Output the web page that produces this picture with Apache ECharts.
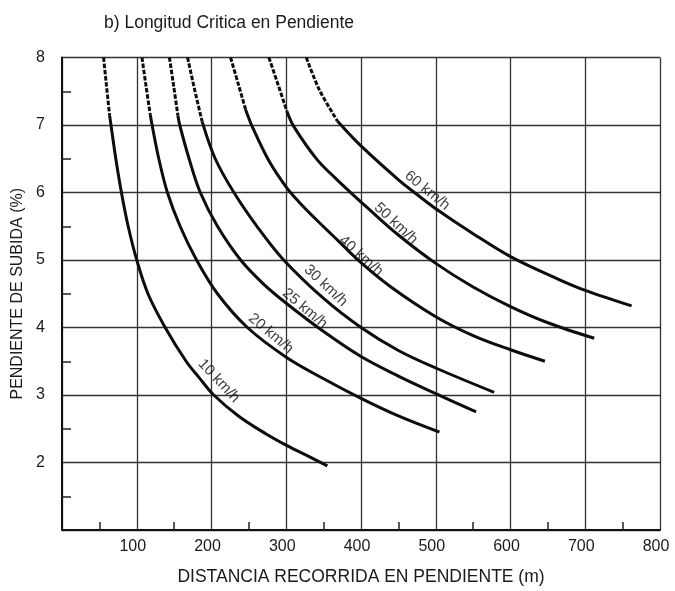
<!DOCTYPE html>
<html>
<head>
<meta charset="utf-8">
<script src="https://cdn.jsdelivr.net/npm/echarts@6/dist/echarts.min.js"></script>
<style>
  html, body { margin: 0; padding: 0; background: #fff; }
  #chart { width: 675px; height: 591px; }
</style>
</head>
<body>
<div id="chart"></div>
<script>
// Longitud critica en pendiente: distancia recorrida (m) vs. pendiente de subida (%)
// one curve per speed reduction; the upper stretch of each curve is drawn dashed

const distanceTicks = [0, 100, 200, 300, 400, 500, 600, 700, 800];
const gradeTicks = [1, 2, 3, 4, 5, 6, 7, 8];

const speeds = ['10 km/h', '20 km/h', '25 km/h', '30 km/h', '40 km/h', '50 km/h', '60 km/h'];

// [distance m, grade %]
const dashed10 = [[55.6, 8], [59.6, 7.57], [63.7, 7.14]];
const solid10 = [[63.7, 7.14], [65.5, 7.0], [72, 6.5], [79.5, 6.0], [88.5, 5.5], [100, 5.0], [115, 4.5],
  [138, 4.0], [166, 3.5], [184, 3.25], [203, 3.0], [236, 2.69], [272, 2.43], [301, 2.25], [330, 2.09], [355, 1.95]];

const dashed20 = [[107, 8], [112.5, 7.57], [118, 7.16]];
const solid20 = [[118, 7.16], [120.5, 7.0], [129.5, 6.5], [141, 6.0], [158, 5.5], [180, 5.0], [208, 4.5],
  [248, 4.0], [300, 3.56], [350, 3.24], [400, 2.95], [450, 2.69], [505, 2.45]];

const dashed25 = [[143.7, 8], [149.5, 7.57], [155, 7.14]];
const solid25 = [[155, 7.14], [157.5, 7.0], [170, 6.5], [185, 6.0], [208, 5.5], [239, 5.0], [270, 4.64],
  [300, 4.36], [350, 3.94], [400, 3.57], [450, 3.28], [500, 3.02], [554, 2.75]];

const dashed30 = [[168, 8], [177.5, 7.52], [187.5, 7.05]];
const solid30 = [[187.5, 7.05], [205, 6.5], [230, 6.0], [262, 5.48], [295, 5.02], [350, 4.43], [400, 4.0],
  [450, 3.66], [500, 3.40], [578, 3.04]];

const dashed40 = [[225.5, 8], [235.5, 7.62], [245.6, 7.23]];
const solid40 = [[245.6, 7.23], [254.4, 6.98], [276.8, 6.47], [300, 6.08], [317, 5.86], [340, 5.60], [370, 5.28],
  [400, 4.96], [440, 4.60], [500, 4.16], [550, 3.88], [600, 3.67], [646, 3.50]];

const dashed50 = [[276.8, 8], [289, 7.6], [301, 7.2]];
const solid50 = [[301, 7.2], [310, 6.98], [341, 6.49], [365, 6.22], [388, 5.98], [405, 5.81], [450, 5.37],
  [500, 4.95], [550, 4.60], [600, 4.31], [650, 4.07], [712, 3.84]];

const dashed60 = [[326.8, 8], [344.3, 7.52], [368.4, 7.06]];
const solid60 = [[368.4, 7.06], [400, 6.69], [451, 6.18], [475, 5.97], [500, 5.76], [550, 5.39], [600, 5.05],
  [665, 4.71], [700, 4.55], [762, 4.32]];

const dashedParts = [dashed10, dashed20, dashed25, dashed30, dashed40, dashed50, dashed60];
const solidParts = [solid10, solid20, solid25, solid30, solid40, solid50, solid60];

// where each speed label sits (data coordinates) and how it is tilted along its curve
const labelLayout = [
  { at: [209.8, 3.21], angle: -47 },
  { at: [279.5, 3.91], angle: -40 },
  { at: [325, 4.28], angle: -40 },
  { at: [352.8, 4.62], angle: -43 },
  { at: [400, 5.06], angle: -41 },
  { at: [446.6, 5.54], angle: -43 },
  { at: [488.6, 6.03], angle: -39 }
];

const FONT = "'Liberation Sans', Arial, Helvetica, sans-serif";
const INK = '#0d0d0d';

const series = [];
speeds.forEach((name, i) => {
  series.push({
    type: 'line', name: name + ' (tramo incierto)', data: dashedParts[i],
    showSymbol: false, smooth: 0.3, silent: true, z: 3,
    lineStyle: { color: INK, width: 3, type: [4.5, 1.7] }
  });
  series.push({
    type: 'line', name: name, data: solidParts[i],
    showSymbol: false, smooth: 0.35, silent: true, z: 3,
    lineStyle: { color: INK, width: 3 }
  });
});

series.push({
  type: 'scatter', name: 'velocidades', silent: true, z: 5,
  symbolSize: 0,
  data: speeds.map((s, i) => ({
    value: labelLayout[i].at, name: s,
    label: { rotate: labelLayout[i].angle }
  })),
  label: {
    show: true, position: 'inside', formatter: p => p.name,
    fontFamily: FONT, fontSize: 15, color: '#0a0a0a'
  }
});

const chart = echarts.init(document.getElementById('chart'), null, { renderer: 'canvas' });
chart.setOption({
  animation: false,
  backgroundColor: '#fff',
  title: {
    text: 'b) Longitud Critica en Pendiente',
    left: 99, top: 9,
    textStyle: { fontFamily: FONT, fontSize: 17.5, fontWeight: 'normal', color: '#1a1a1a' }
  },
  grid: { left: 62, top: 57.5, right: 15, bottom: 57, containLabel: false },
  xAxis: {
    type: 'value',
    min: distanceTicks[0], max: distanceTicks[distanceTicks.length - 1], interval: 100,
    name: 'DISTANCIA RECORRIDA EN PENDIENTE (m)',
    nameLocation: 'middle', nameGap: 38,
    nameTextStyle: { fontFamily: FONT, fontSize: 17.5, color: '#1a1a1a' },
    axisLine: { show: true, onZero: false, lineStyle: { color: '#111', width: 2 } },
    axisTick: { show: false, inside: true },
    minorTick: { show: true, splitNumber: 2, length: 8, lineStyle: { color: '#222', width: 1.5 } },
    splitLine: { show: true, lineStyle: { color: '#333', width: 1.3 } },
    axisLabel: {
      margin: 9, fontFamily: FONT, fontSize: 16, color: '#1a1a1a',
      padding: [0, 8, 0, 0],
      formatter: v => (distanceTicks.indexOf(v) > 0 ? String(v) : '')
    }
  },
  yAxis: {
    type: 'value',
    min: gradeTicks[0], max: gradeTicks[gradeTicks.length - 1], interval: 1,
    name: 'PENDIENTE DE SUBIDA (%)',
    nameLocation: 'middle', nameGap: 34,
    nameTextStyle: { fontFamily: FONT, fontSize: 16, color: '#1a1a1a' },
    axisLine: { show: true, onZero: false, lineStyle: { color: '#111', width: 2 } },
    axisTick: { show: false, inside: true },
    minorTick: { show: true, splitNumber: 2, length: 9, lineStyle: { color: '#222', width: 1.5 } },
    splitLine: { show: true, lineStyle: { color: '#333', width: 1.3 } },
    axisLabel: {
      margin: 17, fontFamily: FONT, fontSize: 16, color: '#1a1a1a',
      formatter: v => (gradeTicks.indexOf(v) > 0 ? String(v) : '')
    }
  },
  series: series
});
</script>
</body>
</html>
